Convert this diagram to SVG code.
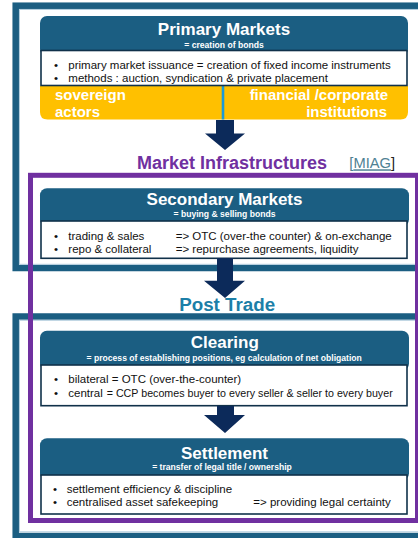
<svg xmlns="http://www.w3.org/2000/svg" width="418" height="538" viewBox="0 0 418 538">
<style>
.frame{fill:none;stroke:#1b5e82;stroke-width:6.5}
.frameIn{fill:none;stroke:#b3cede;stroke-width:1}
.purple{fill:none;stroke:#7030a0;stroke-width:5}
.hdr{fill:#1b5e82}
.box{fill:#fff;stroke:#10314a;stroke-width:1.6}
.title{font-family:"Liberation Sans",Arial,sans-serif;font-weight:bold;fill:#fff;text-anchor:middle;font-size:17px}
.sub{font-family:"Liberation Sans",Arial,sans-serif;font-weight:bold;fill:#fff;text-anchor:middle;font-size:8.6px}
.txt{font-family:"Liberation Sans",Arial,sans-serif;fill:#111;font-size:11.5px}
.band{font-family:"Liberation Sans",Arial,sans-serif;font-weight:bold;fill:#fff;font-size:15px}
.arrow{fill:#0c2a5a}
</style>

<!-- frames -->
<g id="frames">
  <rect class="frame" x="15.7" y="5.7" width="420" height="262.3"/>
  <rect class="frameIn" x="19.5" y="9.5" width="420" height="254.8"/>
  <rect class="frame" x="15.7" y="316.5" width="420" height="219.5"/>
  <rect class="frameIn" x="19.5" y="320.3" width="420" height="211.5"/>
  <rect class="purple" x="30.5" y="175.3" width="387" height="345.2"/>
</g>

<g id="primary-markets">
  <rect class="hdr" x="40" y="16" width="368" height="40" rx="7"/>
  <path d="M40 86 H408 V112 Q408 119.5 400.5 119.5 H47.5 Q40 119.5 40 112 Z" fill="#ffc000"/>
  <line x1="223" y1="84" x2="223" y2="119.5" stroke="#1a9ad8" stroke-width="2.6"/>
  <rect class="box" x="41" y="50.5" width="366" height="35"/>
  <text class="title" x="224" y="35">Primary Markets</text>
  <text class="sub" x="224" y="47.5">= creation of bonds</text>
  <text class="txt" x="54" y="69">•<tspan x="68.3">primary market issuance = creation of fixed income instruments</tspan></text>
  <text class="txt" x="54" y="82.3">•<tspan x="68.3">methods : auction, syndication &amp; private placement</tspan></text>
  <text class="band" x="55" y="100">sovereign</text>
  <text class="band" x="55" y="116.5">actors</text>
  <text class="band" x="388" y="100" text-anchor="end">financial /corporate</text>
  <text class="band" x="387" y="116.5" text-anchor="end">institutions</text>
</g>

<g id="market-infrastructures">
  <text x="232" y="169.3" font-family="Liberation Sans, Arial, sans-serif" font-weight="bold" font-size="18" fill="#7030a0" text-anchor="middle">Market Infrastructures</text>
  <text x="349.3" y="168.3" font-family="Liberation Sans, Arial, sans-serif" font-size="14.7" fill="#4f8193">[<tspan text-decoration="underline">MIAG</tspan><tspan fill="#222">]</tspan></text>
</g>

<g id="secondary-markets">
  <rect class="hdr" x="40" y="188.3" width="369" height="38" rx="7"/>
  <rect class="box" x="41" y="221" width="366" height="37.3"/>
  <text class="title" x="224.5" y="205">Secondary Markets</text>
  <text class="sub" x="224.5" y="217.3">= buying &amp; selling bonds</text>
  <text class="txt" x="54" y="240">•<tspan x="68.3">trading &amp; sales</tspan><tspan x="175.7">=&gt; OTC (over-the counter) &amp; on-exchange</tspan></text>
  <text class="txt" x="54" y="252.7">•<tspan x="68.3">repo &amp; collateral</tspan><tspan x="175.7">=&gt; repurchase agreements, liquidity</tspan></text>
</g>

<g id="post-trade">
  <text x="227.2" y="310.7" font-family="Liberation Sans, Arial, sans-serif" font-weight="bold" font-size="18.8" fill="#1c7fa8" text-anchor="middle">Post Trade</text>
</g>

<g id="clearing">
  <rect class="hdr" x="40" y="330.7" width="369" height="40" rx="7"/>
  <rect class="box" x="41" y="365" width="366" height="40.7"/>
  <text class="title" x="224.8" y="348.3">Clearing</text>
  <text class="sub" x="224.2" y="361">= process of establishing positions, eg calculation of net obligation</text>
  <text class="txt" x="54" y="382.7">•<tspan x="68.3">bilateral = OTC (over-the-counter)</tspan></text>
  <text class="txt" x="54" y="396.7">•<tspan x="68.3">central</tspan><tspan x="106.7" textLength="286" lengthAdjust="spacingAndGlyphs">= CCP becomes buyer to every seller &amp; seller to every buyer</tspan></text>
</g>

<g id="settlement">
  <rect class="hdr" x="40" y="438.3" width="369" height="42" rx="7"/>
  <rect class="box" x="41" y="475" width="366" height="39"/>
  <text class="title" x="224.5" y="459.3">Settlement</text>
  <text class="sub" x="222" y="470">= transfer of legal title / ownership</text>
  <text class="txt" x="53" y="492.7">•<tspan x="66.7">settlement efficiency &amp; discipline</tspan></text>
  <text class="txt" x="53" y="506">•<tspan x="66.7">centralised asset safekeeping</tspan><tspan x="253.3">=&gt; providing legal certainty</tspan></text>
</g>

<g id="connectors">
  <polygon class="arrow" points="216,120 234,120 234,133.5 245,133.5 225,150 205,133.5 216,133.5"/>
  <polygon class="arrow" points="217,258 233,258 233,280.7 245,280.7 225,298 204,280.7 217,280.7"/>
  <polygon class="arrow" points="217,406 234,406 234,415 245,415 225,433 204,415 217,415"/>
</g>
</svg>
